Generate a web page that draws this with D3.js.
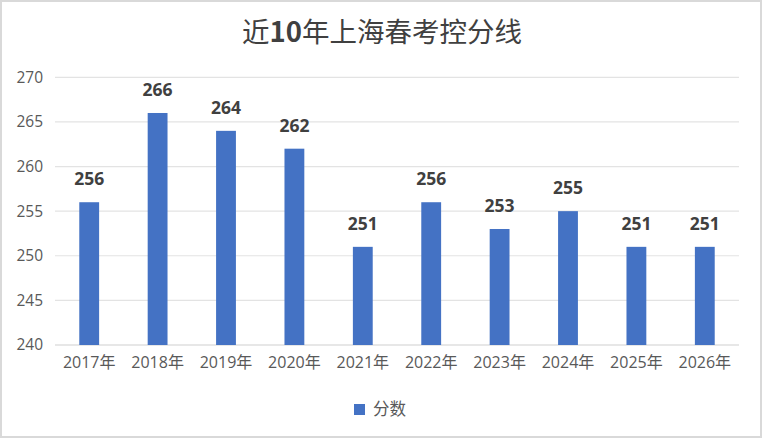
<!DOCTYPE html>
<html><head><meta charset="utf-8">
<script src="https://cdn.jsdelivr.net/npm/d3@7"></script>
<style>body{margin:0;background:#fff}svg{display:block}</style>
</head><body>
<svg id="c" width="762" height="439"></svg>
<script>
const categories = ["2017年","2018年","2019年","2020年","2021年","2022年","2023年","2024年","2025年","2026年"];
const scores = [256,266,264,262,251,256,253,255,251,251];
const yTicks = [240,245,250,255,260,265,270];
const seriesName = "分数";
const titleMain = ["近","10","年上海春考控分线"];

const W=762,H=439;
const svg=d3.select("#c");
svg.append("rect").attr("x",1).attr("y",1).attr("width",W-2).attr("height",H-3)
  .attr("fill","#fff").attr("stroke","#d9d9d9").attr("stroke-width",2);

const m={l:55,r:23,t:77,b:94};
const x=d3.scaleBand().domain(categories).range([m.l,W-m.r]).paddingInner(0.71).paddingOuter(0.355);
const y=d3.scaleLinear().domain([240,270]).range([345,77.3]);
const font="'Open Sans','Noto Sans CJK SC',sans-serif";

// grid
svg.append("g").selectAll("line").data(yTicks).join("line")
  .attr("x1",m.l).attr("x2",W-m.r).attr("y1",d=>y(d)).attr("y2",d=>y(d))
  .attr("stroke",(d)=>d===240?"#d0d0d0":"#e3e3e3").attr("stroke-width",1.2);

// y axis
const ya=svg.append("g").attr("transform",`translate(${m.l},0)`)
  .call(d3.axisLeft(y).tickValues(yTicks).tickSize(0).tickPadding(12));
ya.select(".domain").remove();
ya.selectAll("text").attr("font-family",font).attr("font-size",15.5).attr("fill","#595959");

// x axis
const xa=svg.append("g").attr("transform",`translate(0,${y(240)})`)
  .call(d3.axisBottom(x).tickSize(0).tickPadding(12));
xa.select(".domain").remove();
xa.selectAll("text").attr("font-family",font).attr("font-size",16).attr("fill","#595959");

// bars
svg.append("g").selectAll("rect").data(scores).join("rect")
  .attr("x",(d,i)=>x(categories[i])).attr("width",x.bandwidth())
  .attr("y",d=>y(d)).attr("height",d=>y(240)-y(d)).attr("fill","#4472c4");

// labels
svg.append("g").selectAll("text").data(scores).join("text")
  .attr("x",(d,i)=>x(categories[i])+x.bandwidth()/2).attr("y",d=>y(d)-17)
  .attr("text-anchor","middle").attr("font-family",font).attr("font-weight","bold")
  .attr("font-size",17.5).attr("fill","#404040").text(d=>d);

// title
const t=svg.append("text").attr("x",382).attr("y",42).attr("text-anchor","middle")
  .attr("font-family","'Noto Sans CJK SC',sans-serif").attr("font-size",27.5).attr("fill","#404040");
t.selectAll("tspan").data(titleMain).join("tspan").attr("font-weight",(d,i)=>i===1?"bold":"normal").text(d=>d);

// legend
const lg=svg.append("g");
lg.append("rect").attr("x",354).attr("y",404).attr("width",11).attr("height",11).attr("fill","#4472c4");
lg.append("text").attr("x",373).attr("y",415).attr("font-family",font).attr("font-size",16.5)
  .attr("fill","#595959").text(seriesName);
</script>
</body></html>
